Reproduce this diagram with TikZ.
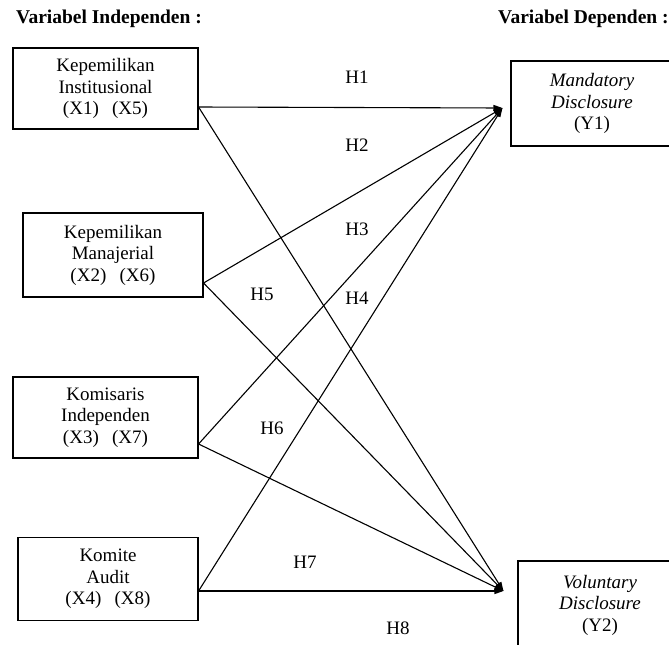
\documentclass[tikz,border=0pt]{standalone}
\usepackage{fontspec}
\setmainfont{Liberation Serif}
\usetikzlibrary{arrows.meta}
\begin{document}
\begin{tikzpicture}[x=1pt,y=-1pt,
  box/.style={draw, line width=1.1pt, align=center, inner sep=0pt,
    font=\fontsize{19}{21.5}\selectfont},
  title/.style={font=\fontsize{19.5}{22}\selectfont\bfseries, inner sep=0pt, anchor=west},
  hyp/.style={font=\fontsize{19}{21}\selectfont, inner sep=0pt},
  arr/.style={line width=1.1pt, -{Triangle[length=9pt,width=6pt]}}]
\useasboundingbox (0,0) rectangle (669,646);
\begin{scope}
\clip (0,0) rectangle (669,644.5);
\node[title] (ti) at (16,19) {Variabel Independen :};
\node[title] (td) at (498,19) {Variabel Dependen :};

\node[box, minimum width=185pt, minimum height=81pt] (x1) at (105.5,88.5)
  {Kepemilikan\\Institusional\\(X1)\hspace{0.7em}(X5)};
\node[box, minimum width=180pt, minimum height=84pt] (x2) at (113,255)
  {Kepemilikan\\Manajerial\\(X2)\hspace{0.7em}(X6)};
\node[box, minimum width=185pt, minimum height=81pt] (x3) at (105.5,417.5)
  {Komisaris\\Independen\\(X3)\hspace{0.7em}(X7)};
\node[box, minimum width=180pt, minimum height=83pt] (x4) at (108,579)
  {Komite\\Audit\\(X4)\hspace{0.7em}(X8)};
\node[box, minimum width=162pt, minimum height=85pt] (y1) at (592,103.5)
  {\itshape Mandatory\\\itshape Disclosure\\(Y1)};
\node[box, minimum width=164pt, minimum height=88pt] (y2) at (600,605)
  {\itshape Voluntary\\\itshape Disclosure\\(Y2)};
\end{scope}

\coordinate (s1) at (x1.east |- 0,107);
\coordinate (s2) at (x2.east |- 0,283);
\coordinate (s3) at (x3.east |- 0,444);
\coordinate (s4) at (x4.east |- 0,591);
\coordinate (t1) at ([xshift=-8pt]y1.west |- 0,108);
\coordinate (t2) at ([xshift=-14pt]y2.west |- 0,591);

\foreach \s in {s1,s2,s3,s4}{
  \draw[arr] (\s) -- (t1);
  \draw[arr] (\s) -- (t2);
}

\node[hyp] (h1) at (357,77) {H1};
\node[hyp] (h2) at (357,145) {H2};
\node[hyp] (h3) at (357,229) {H3};
\node[hyp] (h4) at (357,298) {H4};
\node[hyp] (h5) at (262,294) {H5};
\node[hyp] (h6) at (272,428) {H6};
\node[hyp] (h7) at (305,562) {H7};
\node[hyp] (h8) at (398,628) {H8};
\end{tikzpicture}
\end{document}
